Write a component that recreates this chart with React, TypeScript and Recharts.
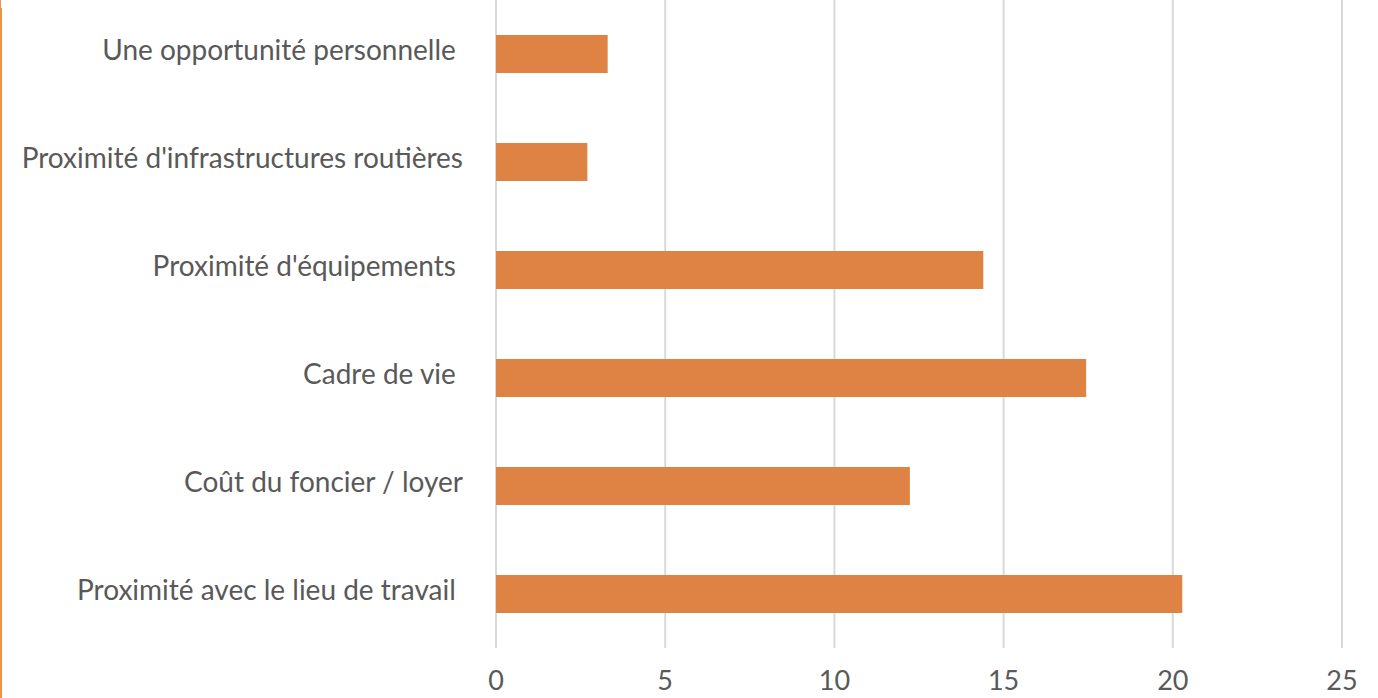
import React from "react";
import { BarChart, Bar, XAxis, YAxis, CartesianGrid } from "recharts";

const categories = [
  "Une opportunité personnelle ",
  "Proximité d'infrastructures routières",
  "Proximité d'équipements ",
  "Cadre de vie ",
  "Coût du foncier / loyer",
  "Proximité avec le lieu de travail ",
];
const values = [3.3, 2.7, 14.4, 17.44, 12.23, 20.28];
const xTicks = [0, 5, 10, 15, 20, 25];

const data = categories.map((c, i) => ({ name: c, value: values[i] }));

const FONT = "Lato, 'Open Sans', sans-serif";
const TEXT = "#595959";

const YTick = (props: any) => {
  const { x, y, payload } = props;
  return (
    <text
      x={x}
      y={y}
      dy={6}
      textAnchor="end"
      fill={TEXT}
      fontSize={28}
      fontFamily={FONT}
      style={{ whiteSpace: "pre" }}
      xmlSpace="preserve"
    >
      {payload.value}
    </text>
  );
};

const XTick = (props: any) => {
  const { x, y, payload } = props;
  return (
    <text
      x={x}
      y={y}
      dy={5}
      textAnchor="middle"
      fill={TEXT}
      fontSize={27}
      fontFamily={FONT}
    >
      {payload.value}
    </text>
  );
};

export default function App() {
  return (
    <div style={{ position: "absolute", left: 0, top: 0, width: 1378, height: 698, background: "#fff" }}>
      <div style={{ position: "absolute", left: 0, top: 0, width: 1, height: 8, background: "#F0914A" }} />
      <div style={{ position: "absolute", left: 0, top: 8, width: 2, height: 690, background: "#F0914A" }} />
      <BarChart
        width={1378}
        height={698}
        data={data}
        layout="vertical"
        margin={{ top: 0, right: 36, bottom: 0, left: 0 }}
        barSize={38}
      >
        <CartesianGrid horizontal={false} vertical={true} stroke="#D9D9D9" strokeWidth={2} />
        <XAxis
          type="number"
          domain={[0, 25]}
          ticks={xTicks}
          axisLine={false}
          tickLine={false}
          height={50}
          tickMargin={31}
          tick={<XTick />}
          interval={0}
        />
        <YAxis
          type="category"
          dataKey="name"
          width={496}
          axisLine={false}
          tickLine={false}
          tickMargin={27}
          tick={<YTick />}
          interval={0}
        />
        <Bar dataKey="value" fill="#DF8344" isAnimationActive={false} />
      </BarChart>
    </div>
  );
}
